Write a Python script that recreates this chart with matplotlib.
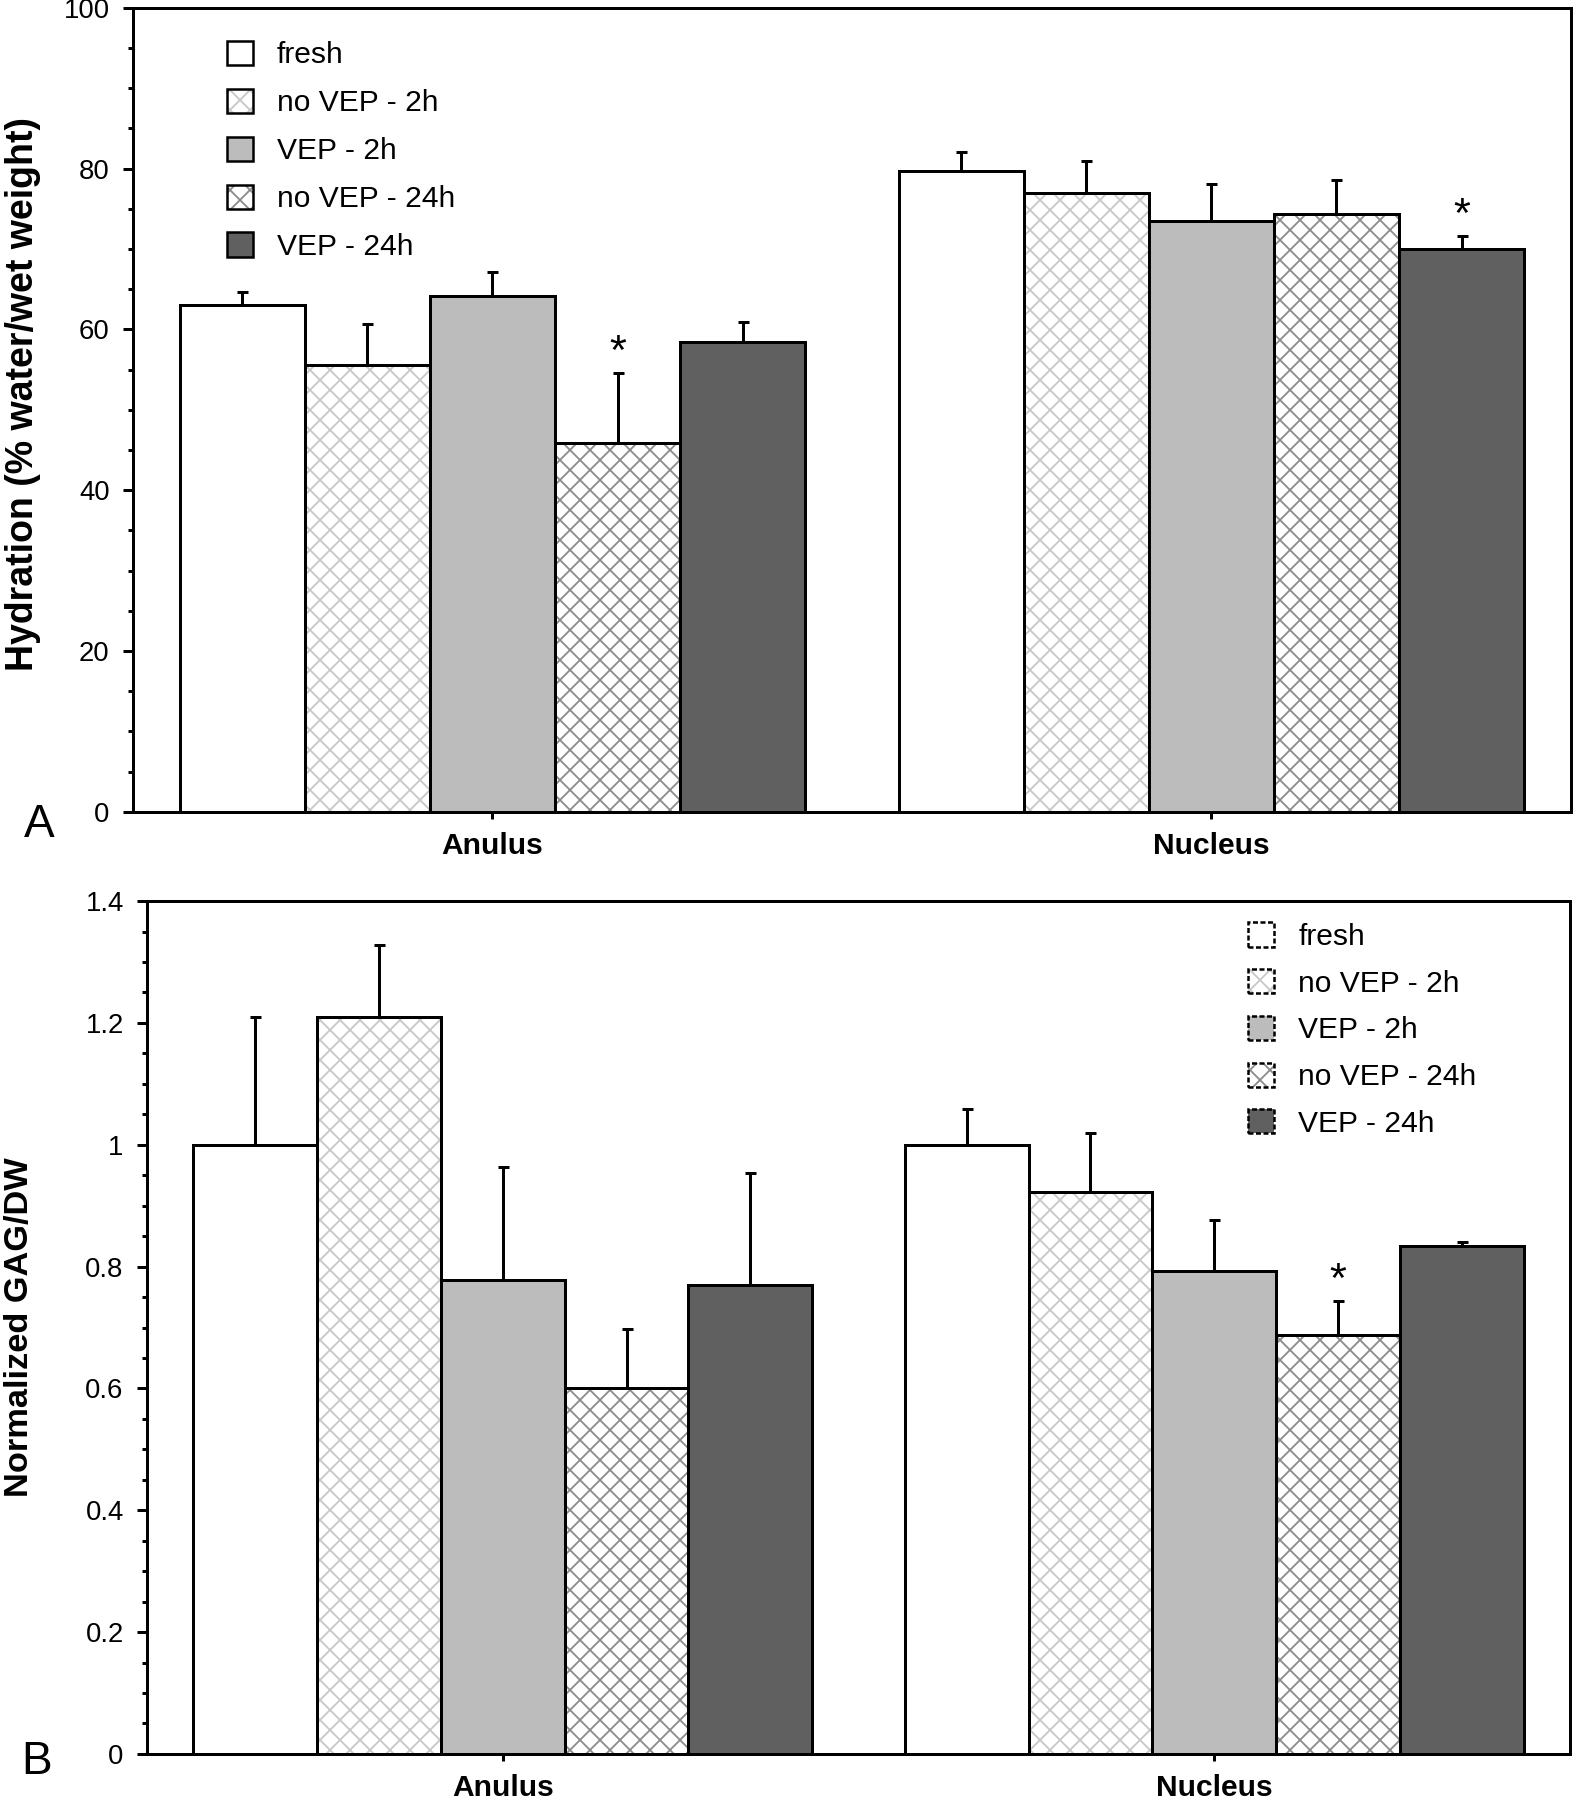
import matplotlib
matplotlib.use("Agg")
import matplotlib.pyplot as plt
from matplotlib.patches import Patch
from matplotlib.ticker import MultipleLocator, FormatStrFormatter
import numpy as np

plt.rcParams['font.family'] = ['Liberation Sans', 'DejaVu Sans']
plt.rcParams['hatch.linewidth'] = 1.1

# data
groups = ['Anulus', 'Nucleus']
series = ['fresh', 'no VEP - 2h', 'VEP - 2h', 'no VEP - 24h', 'VEP - 24h']

hyd_mean = [[63.0, 55.6, 64.1, 45.9, 58.4],
            [79.7, 77.0, 73.5, 74.4, 70.0]]
hyd_top = [[64.7, 60.7, 67.1, 54.6, 60.9],
           [82.0, 80.9, 78.1, 78.6, 71.6]]
hyd_stars = [(0, 3), (1, 4)]

gag_mean = [[1.00, 1.21, 0.778, 0.600, 0.769],
            [1.00, 0.923, 0.793, 0.688, 0.833]]
gag_top = [[1.21, 1.328, 0.963, 0.697, 0.953],
           [1.059, 1.019, 0.876, 0.744, 0.840]]
gag_stars = [(1, 3)]

# styles
faces = ['white', 'white', '#bcbcbc', 'white', '#606060']
hatch_cols = [None, '#c8c8c8', None, '#8c8c8c', None]
hatches = [None, 'xx', None, 'xx', None]
LW = 1.8

fig = plt.figure(figsize=(1574 / 120, 1800 / 120), dpi=120)
axA = fig.add_axes([0.0845, 0.549, 0.9135, 0.4467])
axB = fig.add_axes([0.0934, 0.0256, 0.9041, 0.4738])

w = 0.174


def draw(ax, means, tops, stars, ymax, major, minor, star_off):
    xc = np.arange(len(groups))
    for j in range(len(series)):
        xs = xc + (j - 2) * w
        vals = [means[g][j] for g in range(len(groups))]
        up = [tops[g][j] - means[g][j] for g in range(len(groups))]
        ec = hatch_cols[j] if hatch_cols[j] else faces[j]
        ax.bar(xs, vals, w, color=faces[j], edgecolor=ec, hatch=hatches[j],
               linewidth=0, zorder=2)
        ax.bar(xs, vals, w, fill=False, edgecolor='k', linewidth=LW, zorder=3)
        ax.errorbar(xs, vals, yerr=[np.zeros(len(vals)), up], fmt='none',
                    ecolor='k', elinewidth=LW, capsize=3.3, capthick=LW,
                    zorder=1)
    for g, j in stars:
        ax.annotate('*', xy=(g + (j - 2) * w, tops[g][j]),
                    xytext=(0, star_off), textcoords='offset points',
                    ha='center', va='bottom', fontsize=26)
    ax.set_xlim(-0.5, 1.5)
    ax.set_ylim(0, ymax)
    ax.set_xticks(xc)
    ax.set_xticklabels(groups, fontweight='bold', fontsize=18)
    ax.yaxis.set_major_locator(MultipleLocator(major))
    ax.yaxis.set_minor_locator(MultipleLocator(minor))
    ax.yaxis.set_major_formatter(FormatStrFormatter('%g'))
    ax.tick_params(axis='y', which='major', direction='out', length=6,
                   width=LW, labelsize=16.5, pad=8)
    ax.tick_params(axis='y', which='minor', direction='out', length=3,
                   width=LW)
    ax.tick_params(axis='x', direction='out', length=4, width=LW, pad=8)
    for s in ax.spines.values():
        s.set_linewidth(LW)


draw(axA, hyd_mean, hyd_top, hyd_stars, 100, 20, 5, 0)
draw(axB, gag_mean, gag_top, gag_stars, 1.4, 0.2, 0.05, 0)

axA.set_ylabel('Hydration (% water/wet weight)', fontweight='bold',
               fontsize=22.5)
axA.yaxis.set_label_coords(-0.064, 0.52)
axB.set_ylabel('Normalized GAG/DW', fontweight='bold', fontsize=20.6)
axB.yaxis.set_label_coords(-0.079, 0.5)


def handles(ls):
    hs = []
    for j in range(len(series)):
        ec = hatch_cols[j] if hatch_cols[j] else faces[j]
        hs.append((Patch(facecolor=faces[j], edgecolor=ec, hatch=hatches[j],
                         linewidth=0),
                   Patch(fill=False, edgecolor='k', linewidth=1.5,
                         linestyle=ls)))
    return hs


axA.legend(handles('-'), series, loc='upper left',
           bbox_to_anchor=(0.0654, 0.959), frameon=False, fontsize=18,
           borderpad=0, handlelength=0.86, handleheight=0.86,
           handletextpad=0.8, labelspacing=0.65, borderaxespad=0)
axB.legend(handles((0, (2, 1))), series, loc='upper left',
           bbox_to_anchor=(0.774, 0.975), frameon=False, fontsize=18,
           borderpad=0, handlelength=0.86, handleheight=0.86,
           handletextpad=0.8, labelspacing=0.61, borderaxespad=0)

fig.text(39 / 1574, 1 - 825 / 1800, 'A', fontsize=27.6, ha='center',
         va='center')
fig.text(37 / 1574, 1 - 1762 / 1800, 'B', fontsize=27.6, ha='center',
         va='center')

fig.savefig('out.png', dpi=120)
